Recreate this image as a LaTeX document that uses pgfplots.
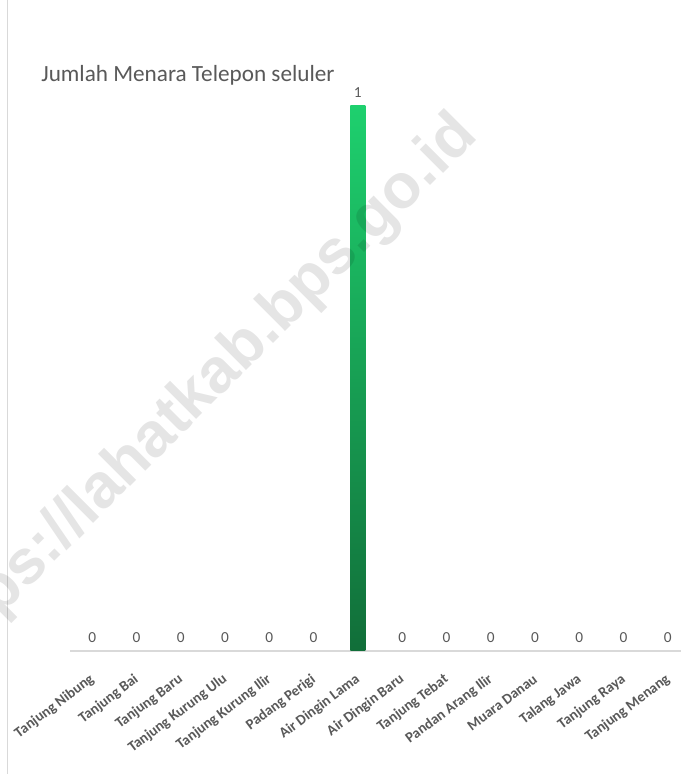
\documentclass[border=0pt]{standalone}
\usepackage{pgfplots}
\pgfplotsset{compat=1.18}
\usepackage{fontspec}
\setmainfont{Carlito}
\newfontfamily\wmfont{Liberation Sans}
\definecolor{txt}{HTML}{595959}
\definecolor{gtop}{HTML}{1ED06E}
\definecolor{gbot}{HTML}{116E39}
\definecolor{axl}{HTML}{D9D9D9}
\begin{document}
\begin{tikzpicture}
\useasboundingbox (0,0) rectangle (510.75pt,580.5pt);
\fill[white] (0,0) rectangle (510.75pt,580.5pt);
\draw[axl, line width=1.3pt] (5.6pt,0) -- (5.6pt,580.5pt);
\node[anchor=base west, text=txt, font=\fontsize{17.4}{20}\selectfont] at (27.5pt,519pt) {Jumlah Menara Telepon seluler};
\begin{axis}[
  at={(52.5pt,92.25pt)}, anchor=south west,
  scale only axis, width=465pt, height=408.75pt,
  xmin=-0.5, xmax=13.5, ymin=0, ymax=1,
  axis x line=bottom, axis y line=none,
  x axis line style={axl, line width=1.3pt, -},
  xtick={0,...,13}, major tick length=0pt,
  xticklabels={Tanjung Nibung, Tanjung Bai, Tanjung Baru, Tanjung Kurung Ulu, Tanjung Kurung Ilir, Padang Perigi, Air Dingin Lama, Air Dingin Baru, Tanjung Tebat, Pandan Arang Ilir, Muara Danau, Talang Jawa, Tanjung Raya, Tanjung Menang},
  xticklabel style={yshift=-18pt, xshift=3pt, rotate=37, anchor=east, text=txt, font=\bfseries\fontsize{11}{13}\selectfont},
  clip=false,
  bar width=11.25pt,
  /pgf/number format/assume math mode=true,
]
\addplot[ybar, bar shift=0pt, draw=none, fill=none,
  nodes near coords,
  every node near coord/.append style={text=txt, font=\fontsize{11.5}{13}\selectfont, yshift=3pt}]
  coordinates {(0,0) (1,0) (2,0) (3,0) (4,0) (5,0) (6,1) (7,0) (8,0) (9,0) (10,0) (11,0) (12,0) (13,0)};
\addplot[ybar, bar shift=0pt, draw=none, top color=gtop, bottom color=gbot]
  coordinates {(6,1)};
\end{axis}
\node[rotate=45, anchor=base east, text=black, text opacity=0.1, font=\wmfont\bfseries\fontsize{47}{47}\selectfont] at (362pt,480pt) {https://lahatkab.bps.go.id};
\end{tikzpicture}
\end{document}
